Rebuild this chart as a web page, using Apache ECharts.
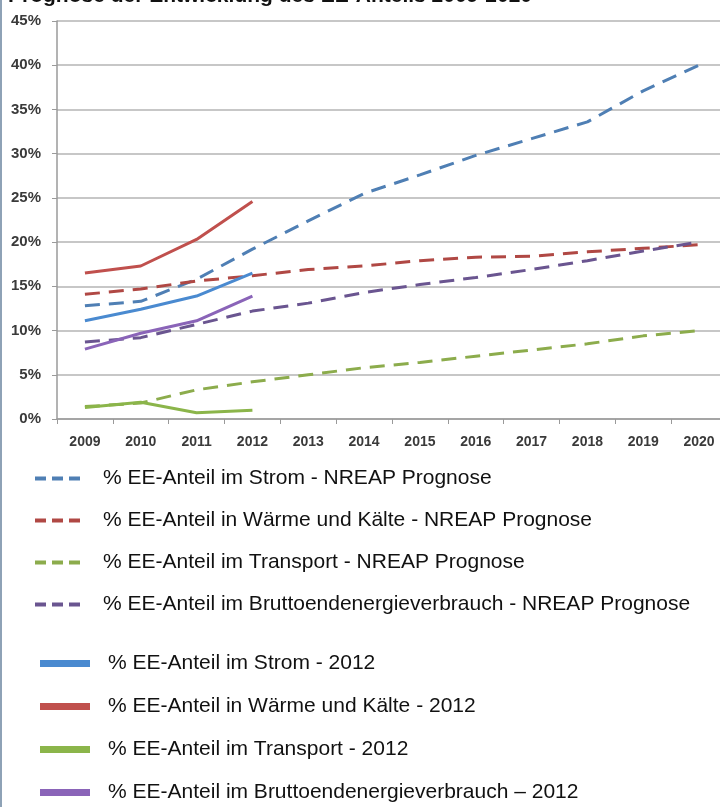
<!DOCTYPE html>
<html>
<head>
<meta charset="utf-8">
<script src="https://cdn.jsdelivr.net/npm/echarts@6/dist/echarts.min.js"></script>
<style>
  html, body { margin: 0; padding: 0; background: #fff; }
  #main { width: 720px; height: 807px; }
  #rand { position: absolute; left: 0; top: 0; width: 2px; height: 807px; background: #8ea2b6; }
</style>
</head>
<body>
<div id="main"></div>
<div id="rand"></div>
<script>
// Daten
var years = ["2009", "2010", "2011", "2012", "2013", "2014", "2015", "2016", "2017", "2018", "2019", "2020"]
var yTicks = [0, 5, 10, 15, 20, 25, 30, 35, 40, 45]

// NREAP Prognose (gestrichelt)
var stromPrognose = [12.8, 13.3, 15.8, 19.2, 22.4, 25.5, 27.6, 29.8, 31.7, 33.6, 37.1, 40.0]
var waermePrognose = [14.1, 14.7, 15.6, 16.2, 16.9, 17.3, 17.9, 18.3, 18.4, 18.9, 19.3, 19.7]
var transportPrognose = [1.4, 1.8, 3.3, 4.2, 5.0, 5.8, 6.4, 7.1, 7.8, 8.5, 9.4, 10.0]
var bruttoPrognose = [8.7, 9.2, 10.7, 12.2, 13.1, 14.3, 15.2, 16.0, 16.9, 17.9, 19.0, 20.0]

// Ist-Werte bis 2012 (durchgezogen)
var strom2012 = [11.1, 12.4, 13.9, 16.5]
var waerme2012 = [16.5, 17.3, 20.3, 24.6]
var transport2012 = [1.3, 1.9, 0.7, 1.0]
var brutto2012 = [7.9, 9.7, 11.1, 13.9]

var namesPrognose = [
  "% EE-Anteil im Strom - NREAP Prognose",
  "% EE-Anteil in Wärme und Kälte - NREAP Prognose",
  "% EE-Anteil im Transport - NREAP Prognose",
  "% EE-Anteil im Bruttoendenergieverbrauch - NREAP Prognose"
]
var names2012 = [
  "% EE-Anteil im Strom - 2012",
  "% EE-Anteil in Wärme und Kälte - 2012",
  "% EE-Anteil im Transport - 2012",
  "% EE-Anteil im Bruttoendenergieverbrauch – 2012"
]

var chartDom = document.getElementById("main")
var myChart = echarts.init(chartDom)

var dashIcon = "path://M0,0h11v4h-11z M17,0h11v4h-11z M34,0h11v4h-11z"
var labelFont = "Liberation Sans, Arial, sans-serif"

function dashed(name, data, color) {
  return {
    name: name,
    type: "line",
    data: data,
    symbol: "none",
    color: color,
    lineStyle: { width: 3, type: [15, 9], color: color },
    z: 2
  }
}
function solid(name, data, color) {
  return {
    name: name,
    type: "line",
    data: data,
    symbol: "none",
    color: color,
    lineStyle: { width: 3, color: color },
    z: 3
  }
}

var option = {
  animation: false,
  title: {
    text: "Prognose der Entwicklung des EE-Anteils 2009-2020",
    left: 3,
    top: -19,
    textStyle: { fontFamily: labelFont, fontSize: 21, fontWeight: "bold", color: "#111" }
  },
  grid: { left: 57, top: 21, width: 670, height: 398, outerBoundsMode: "none" },
  xAxis: {
    type: "category",
    data: years,
    boundaryGap: true,
    axisLine: { lineStyle: { color: "#9a9a9a", width: 1.5 } },
    axisTick: { show: true, length: 5, lineStyle: { color: "#9a9a9a" } },
    axisLabel: { interval: 0, color: "#3a3a3a", fontFamily: labelFont, fontSize: 14, fontWeight: "bold", margin: 16 }
  },
  yAxis: {
    type: "value",
    min: 0,
    max: 45,
    interval: 5,
    axisLine: { show: true, lineStyle: { color: "#9a9a9a", width: 1.5 } },
    axisTick: { show: true, length: 5, lineStyle: { color: "#9a9a9a" } },
    axisLabel: {
      color: "#3a3a3a",
      fontFamily: labelFont,
      fontSize: 15,
      fontWeight: "bold",
      margin: 16,
      formatter: function (v) { return yTicks.indexOf(v) >= 0 ? v + "%" : "" }
    },
    splitLine: { show: true, lineStyle: { color: "#b4b4b4", width: 1.5 } }
  },
  legend: [
    {
      data: namesPrognose,
      orient: "vertical",
      left: 35,
      top: 468,
      padding: 0,
      icon: dashIcon,
      itemWidth: 45,
      itemHeight: 4,
      itemGap: 21,
      textStyle: { fontFamily: labelFont, fontSize: 21, color: "#111", padding: [0, 0, 0, 18] }
    },
    {
      data: names2012,
      orient: "vertical",
      left: 40,
      top: 653,
      padding: 0,
      icon: "rect",
      itemWidth: 50,
      itemHeight: 7,
      itemGap: 22,
      textStyle: { fontFamily: labelFont, fontSize: 21, color: "#111", padding: [0, 0, 0, 13] }
    }
  ],
  series: [
    dashed(namesPrognose[0], stromPrognose, "#4f7fb4"),
    dashed(namesPrognose[1], waermePrognose, "#b04844"),
    dashed(namesPrognose[2], transportPrognose, "#8cac4c"),
    dashed(namesPrognose[3], bruttoPrognose, "#6a5590"),
    solid(names2012[0], strom2012, "#4a8ad0"),
    solid(names2012[1], waerme2012, "#c0504d"),
    solid(names2012[2], transport2012, "#8bb54a"),
    solid(names2012[3], brutto2012, "#8a64b8")
  ]
}

option && myChart.setOption(option)
//自适应
window.addEventListener("resize", function () {
  myChart.resize()
})
</script>
</body>
</html>
